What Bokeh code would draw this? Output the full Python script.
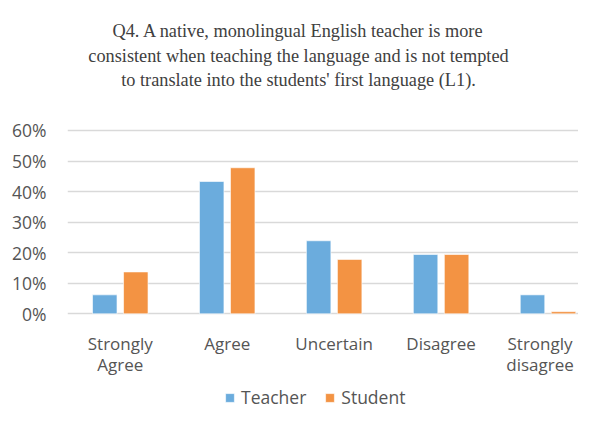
from bokeh.plotting import figure
from bokeh.models import (Range1d, FixedTicker, NumeralTickFormatter, Label,
                          Legend, LegendItem, ColumnDataSource)
from bokeh.core.properties import value
from bokeh.embed import file_html
from bokeh.resources import INLINE

categories = ["Strongly\nAgree", "Agree", "Uncertain", "Disagree", "Strongly\ndisagree"]
teacher = [0.062, 0.433, 0.239, 0.194, 0.062]
student = [0.137, 0.478, 0.178, 0.194, 0.007]
series_names = ["Teacher", "Student"]
title_lines = [
    "Q4. A native, monolingual English teacher is more",
    "consistent when teaching the language and is not tempted",
    "to translate into the students' first language (L1).",
]
y_ticks = [0, 0.1, 0.2, 0.3, 0.4, 0.5, 0.6]

BLUE = "#6BACDD"
ORANGE = "#F39343"
TXT = "#555555"

idx = list(range(len(categories)))
off = 0.145
bw = 0.229

p = figure(width=578, height=409, output_backend="svg", toolbar_location=None,
           x_range=Range1d(-0.4935, 4.285), y_range=Range1d(-0.3133, 1.0255),
           min_border_top=0, min_border_bottom=0, min_border_left=67,
           min_border_right=0)
p.outline_line_color = None
p.background_fill_color = "white"
p.border_fill_color = "white"

src_t = ColumnDataSource(dict(x=[i - off for i in idx], top=teacher))
src_s = ColumnDataSource(dict(x=[i + off for i in idx], top=student))
rt = p.vbar(x="x", top="top", width=bw, source=src_t, fill_color=BLUE,
            line_color="white", line_alpha=0.6, line_width=1)
rs = p.vbar(x="x", top="top", width=bw, source=src_s, fill_color=ORANGE,
            line_color="white", line_alpha=0.6, line_width=1)

# category labels (drawn at the category positions below the 0% line)
line1 = [c.split("\n")[0] for c in categories]
line2 = [c.split("\n")[1] if "\n" in c else "" for c in categories]
x_shift = [0, 0, 0, 0, -8]   # keep the last label inside the canvas
cat_src = ColumnDataSource(dict(x=idx, l1=line1, l2=line2, dx=x_shift))
for col, yv in (("l1", -0.0985), ("l2", -0.1670)):
    p.text(x="x", y=yv, text=col, source=cat_src, x_offset="dx",
           text_align="center", text_baseline="alphabetic",
           text_font=value("Open Sans"), text_font_size="17px", text_color=TXT)

p.xaxis.visible = False

p.yaxis.ticker = FixedTicker(ticks=y_ticks)
p.yaxis.formatter = NumeralTickFormatter(format="0%")
p.yaxis.axis_line_color = None
p.yaxis.major_tick_line_color = None
p.yaxis.minor_tick_line_color = None
p.yaxis.major_label_text_font = "Open Sans"
p.yaxis.major_label_text_font_size = "17.5px"
p.yaxis.major_label_text_color = TXT
p.yaxis.major_label_standoff = 15

p.xgrid.grid_line_color = None
p.ygrid.ticker = FixedTicker(ticks=y_ticks)
p.ygrid.grid_line_color = "#D9D9D9"
p.ygrid.grid_line_width = 1.5

# title lines
for line, y in zip(title_lines, [379.0, 354.0, 330.0]):
    p.add_layout(Label(x=231, y=y, x_units="screen", y_units="screen",
                       text=line, text_align="center", text_baseline="alphabetic",
                       text_font="Liberation Serif", text_font_size="18.3px",
                       text_color="#404040"))

legend = Legend(items=[LegendItem(label=series_names[0], renderers=[rt]),
                       LegendItem(label=series_names[1], renderers=[rs])],
                orientation="horizontal", location=(157, 0))
legend.border_line_color = None
legend.background_fill_alpha = 0
legend.padding = 0
legend.margin = 0
legend.glyph_width = 11
legend.glyph_height = 11
legend.label_standoff = 6
legend.spacing = 18
legend.label_text_font = "Open Sans"
legend.label_text_font_size = "17.5px"
legend.label_text_color = TXT
p.add_layout(legend, "center")

open("out.html", "w").write(file_html(p, INLINE))
